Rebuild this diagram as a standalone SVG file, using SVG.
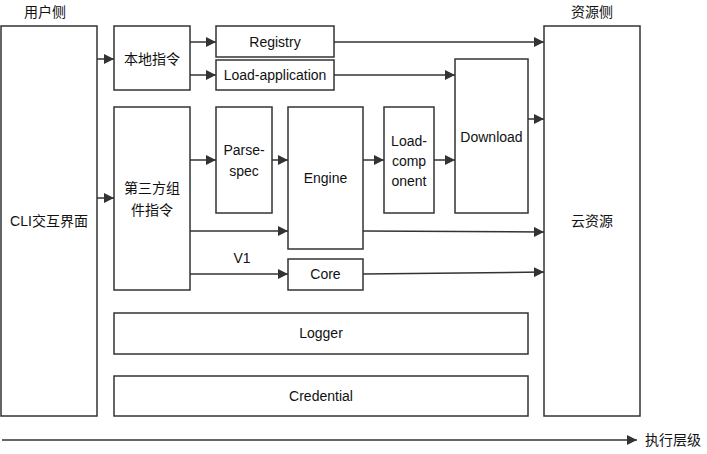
<svg xmlns="http://www.w3.org/2000/svg" width="707" height="454" viewBox="0 0 707 454">
<defs>
<marker id="ah" viewBox="0 0 10 10" refX="10" refY="5" markerWidth="10" markerHeight="10" markerUnits="userSpaceOnUse" orient="auto">
<path d="M0,0 L10,5 L0,10 z" fill="#333"/>
</marker>
<style>
.n rect{fill:#fff;stroke:#333;stroke-width:1.5}
text{font-family:"Liberation Sans","Noto Sans CJK SC",Arial,sans-serif;font-size:14px;fill:#111;text-anchor:middle;dominant-baseline:central}
.c line{stroke:#333;stroke-width:1.5;marker-end:url(#ah)}
</style>
</defs>
<rect width="707" height="454" fill="#fff"/>
<text x="45" y="12">用户侧</text>
<text x="592" y="12">资源侧</text>
<g class="n" id="cli"><rect x="1" y="26" width="96" height="390"/><text x="49" y="221">CLI交互界面</text></g>
<g class="n" id="cloud"><rect x="544" y="26" width="96" height="390"/><text x="592" y="221">云资源</text></g>
<g class="n" id="local"><rect x="114" y="26" width="76" height="64"/><text x="152" y="59">本地指令</text></g>
<g class="n" id="registry"><rect x="216" y="26" width="118" height="31"/><text x="275" y="42">Registry</text></g>
<g class="n" id="loadapp"><rect x="216" y="60" width="118" height="30"/><text x="275" y="75">Load-application</text></g>
<g class="n" id="third"><rect x="114" y="107" width="76" height="183"/><text x="152" y="188">第三方组</text><text x="152" y="210">件指令</text></g>
<g class="n" id="parse"><rect x="216" y="107" width="56" height="106"/><text x="244" y="150">Parse-</text><text x="244" y="171">spec</text></g>
<g class="n" id="engine"><rect x="288" y="107" width="75" height="142"/><text x="325.5" y="178">Engine</text></g>
<g class="n" id="loadcomp"><rect x="384" y="107" width="50" height="106"/><text x="409" y="141">Load-</text><text x="409" y="161">comp</text><text x="409" y="181">onent</text></g>
<g class="n" id="download"><rect x="455" y="59" width="73" height="154"/><text x="491.5" y="137">Download</text></g>
<g class="n" id="core"><rect x="288" y="259" width="75" height="31"/><text x="325.5" y="274">Core</text></g>
<g class="n" id="logger"><rect x="114" y="313" width="414" height="41"/><text x="321" y="333">Logger</text></g>
<g class="n" id="credential"><rect x="114" y="376" width="414" height="40"/><text x="321" y="396">Credential</text></g>
<g class="c" id="connectors">
<line x1="97" y1="59" x2="114" y2="59"/>
<line x1="190" y1="42" x2="216" y2="42"/>
<line x1="190" y1="75" x2="216" y2="75"/>
<line x1="334" y1="42" x2="544" y2="42"/>
<line x1="334" y1="75" x2="455" y2="75"/>
<line x1="528" y1="119" x2="544" y2="119"/>
<line x1="97" y1="198" x2="114" y2="198"/>
<line x1="190" y1="160" x2="216" y2="160"/>
<line x1="272" y1="160" x2="288" y2="160"/>
<line x1="363" y1="160" x2="384" y2="160"/>
<line x1="434" y1="160" x2="455" y2="160"/>
<line x1="190" y1="231" x2="288" y2="231"/>
<line x1="363" y1="231" x2="544" y2="232"/>
<line x1="190" y1="274" x2="288" y2="274"/>
<line x1="363" y1="274" x2="544" y2="272"/>
<line x1="2" y1="440" x2="637" y2="440"/>
</g>
<text x="242" y="258">V1</text>
<text x="673" y="440">执行层级</text>
</svg>
